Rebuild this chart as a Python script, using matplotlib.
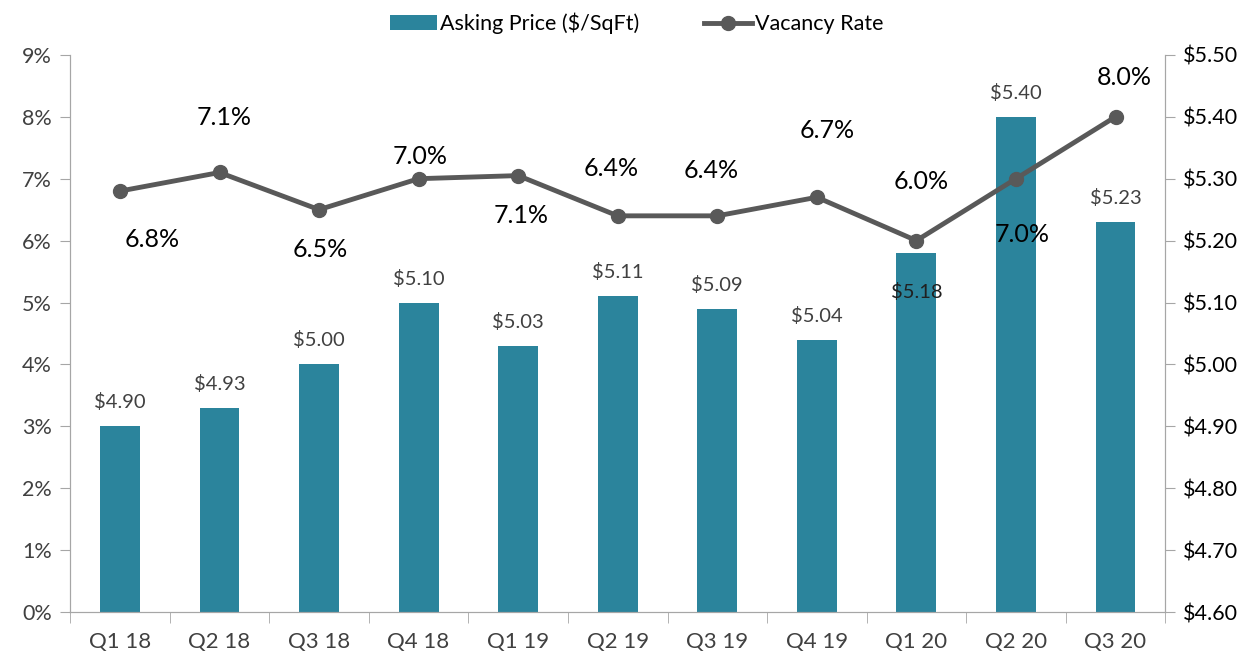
import numpy as np
import matplotlib.pyplot as plt
from matplotlib.ticker import FuncFormatter

plt.rcParams['font.family'] = ['Lato', 'DejaVu Sans']

# data
quarters = ['Q1 18', 'Q2 18', 'Q3 18', 'Q4 18', 'Q1 19', 'Q2 19', 'Q3 19', 'Q4 19', 'Q1 20', 'Q2 20', 'Q3 20']
asking_price = [4.90, 4.93, 5.00, 5.10, 5.03, 5.11, 5.09, 5.04, 5.18, 5.40, 5.23]
vacancy_rate = [6.8, 7.1, 6.5, 7.0, 7.05, 6.4, 6.4, 6.7, 6.0, 7.0, 8.0]
vacancy_labels = ['6.8%', '7.1%', '6.5%', '7.0%', '7.1%', '6.4%', '6.4%', '6.7%', '6.0%', '7.0%', '8.0%']

# label placement (pixels, + is up / right) as in the original
vac_label_dx = [32, 5, 1, 2, 3, -7, -6, 10, 5, 6, 9]
vac_label_dy = [-48, 55, -40, 22, -40, 47, 45, 67, 59, -56, 39]
bar_label_dy = [24, 24, 24, 24, 24, 24, 24, 24, -39, 24, 24]

bar_color = '#2B849C'
line_color = '#595959'
grey_text = '#404040'

fig = plt.figure(figsize=(12.53, 6.61), dpi=100)
ax = fig.add_axes([0.056, 0.074, 0.874, 0.843])
ax2 = ax.twinx()

x = np.arange(len(quarters))
px = 72 / fig.dpi

# bars on the right ($) axis
bars = ax2.bar(x, asking_price, width=0.4, color=bar_color, label='Asking Price ($/SqFt)', zorder=1)
ax2.set_ylim(4.60, 5.50)
ax2.set_yticks(np.arange(4.60, 5.501, 0.10))
ax2.yaxis.set_major_formatter(FuncFormatter(lambda v, p: f'${v:.2f}'))
for xi, v, dy in zip(x, asking_price, bar_label_dy):
    ax2.annotate(f'${v:.2f}', (xi, v), xytext=(0, dy * px), textcoords='offset points',
                 ha='center', va='center', fontsize=14.5,
                 color=grey_text if dy > 0 else '#202020')

# line on the left (%) axis, drawn above bars
ax.set_zorder(ax2.get_zorder() + 1)
ax.patch.set_visible(False)
line, = ax.plot(x, vacancy_rate, color=line_color, lw=3.5, marker='o', markersize=10,
                label='Vacancy Rate', zorder=3)
ax.set_ylim(0, 9)
ax.set_yticks(range(0, 10))
ax.yaxis.set_major_formatter(FuncFormatter(lambda v, p: f'{int(v)}%'))
for xi, v, lab, dx, dy in zip(x, vacancy_rate, vacancy_labels, vac_label_dx, vac_label_dy):
    ax.annotate(lab, (xi, v), xytext=(dx * px, dy * px), textcoords='offset points',
                ha='center', va='center', fontsize=18, color='black')

ax.set_xlim(-0.5, len(quarters) - 0.5)
ax.set_xticks(x)
ax.set_xticklabels(quarters)
ax.set_xticks(np.arange(-0.5, len(quarters), 1), minor=True)
ax.tick_params(axis='x', which='major', length=0, pad=14, labelsize=16, labelcolor=grey_text)
ax.tick_params(axis='x', which='minor', length=8, color='#A6A6A6', direction='out')
ax.tick_params(axis='y', length=7, color='#A6A6A6', labelsize=15.5, labelcolor=grey_text, pad=6)
ax2.tick_params(axis='y', length=7, color='#A6A6A6', labelsize=15.5, labelcolor='black', pad=6)

for a in (ax, ax2):
    a.spines['top'].set_visible(False)
    for s in ('left', 'right', 'bottom'):
        a.spines[s].set_color('#A6A6A6')

fig.legend(handles=[bars, line], labels=['Asking Price ($/SqFt)', 'Vacancy Rate'],
           loc='upper center', bbox_to_anchor=(0.508, 1.01), ncol=2, frameon=False,
           fontsize=15.5, handlelength=2.2, columnspacing=3.0, handletextpad=0.15)

fig.savefig('out.png', dpi=100)
